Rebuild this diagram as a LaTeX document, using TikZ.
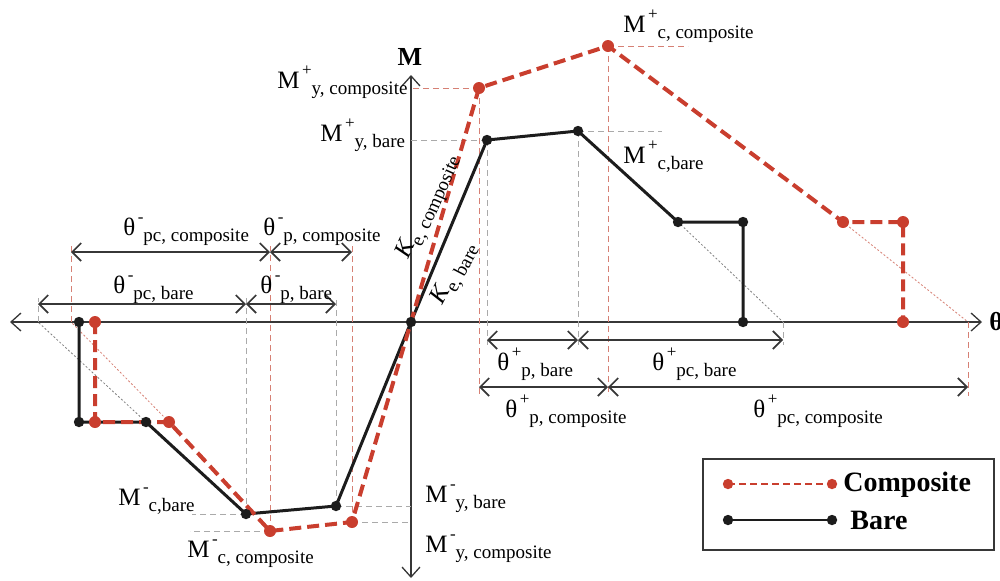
\documentclass[tikz,border=0pt]{standalone}
\usepackage{fontspec}
\setmainfont{Liberation Serif}
\usetikzlibrary{arrows.meta,calc}
\definecolor{compred}{RGB}{201,62,46}
\definecolor{bareblk}{RGB}{28,28,28}
\definecolor{axisgray}{RGB}{55,55,55}
\definecolor{projgray}{RGB}{170,170,170}
\definecolor{projred}{RGB}{214,128,116}
\tikzset{
  axis/.style={draw=axisgray, line width=0.65pt,
    {Straight Barb[length=5pt,width=9pt]}-{Straight Barb[length=5pt,width=9pt]}},
  dim/.style={draw=axisgray, line width=0.85pt,
    {Straight Barb[length=4.5pt,width=9pt]}-{Straight Barb[length=4.5pt,width=9pt]}},
  barecurve/.style={draw=bareblk, line width=1.5pt, line join=round},
  compcurve/.style={draw=compred, line width=2pt, dash pattern=on 6pt off 3pt},
  projb/.style={draw=projgray, line width=0.5pt, dash pattern=on 3pt off 2pt},
  projr/.style={draw=projred, line width=0.5pt, dash pattern=on 3pt off 2pt},
  extb/.style={draw=gray, line width=0.4pt, dash pattern=on 1pt off 1pt},
  extr/.style={draw=projred, line width=0.4pt, dash pattern=on 1pt off 1pt},
  lbl/.style={inner sep=0pt, anchor=base west},
  axlbl/.style={inner sep=0pt, font=\bfseries\fontsize{13}{14}\selectfont},
  legtxt/.style={inner sep=0pt, anchor=west, font=\bfseries\fontsize{14}{15}\selectfont},
}
% symbol with superscript sign and lowered subscript
\newcommand\symlbl[3]{{\fontsize{12.5}{13}\selectfont #1}\hspace{1.2pt}%
  \raisebox{6.2pt}{\fontsize{8.5}{9}\selectfont #2}%
  \raisebox{-3.2pt}{\fontsize{9.5}{10}\selectfont #3}}
\newcommand\stiff[1]{{\fontsize{12.5}{13}\selectfont\itshape K}%
  \raisebox{-3.2pt}{\fontsize{9.5}{10}\selectfont #1}}

\begin{document}
\begin{tikzpicture}[x=0.5pt,y=-0.5pt]
  \useasboundingbox (0,0) rectangle (1000,580);

  % backbone points
  \foreach \n/\x/\y in {o/411/322,
    by/487/140, bc/578/131, br/678/222, bu/743/222, bz/743/322, bx/783/322,
    nby/336/506, nbc/246/514, nbr/146/422, nbu/79/422, nbz/79/322, nbx/38/322,
    cy/479/88, cc/608/46, cr/843/222, cu/903/222, cz/903/322, cx/968/322,
    ncy/352/522, ncc/270/531, ncr/169/422, ncu/95/422, ncz/95/322, ncx/71/322}
    \coordinate (\n) at (\x,\y);
  % rows for dimension arrows and ends of the guide lines
  \coordinate (rowPb) at (0,340);
  \coordinate (rowPc) at (0,387);
  \coordinate (rowNc) at (0,252);
  \coordinate (rowNb) at (0,304);
  \coordinate (endPb) at (0,345);
  \coordinate (endPc) at (0,396);
  \coordinate (endNc) at (0,246);
  \coordinate (endNb) at (0,298);
  \coordinate (tagCc) at (688,0);
  \coordinate (tagBc) at (662,0);
  \coordinate (tagNbc) at (192,0);
  \coordinate (tagNcc) at (190,0);

  % axes
  \coordinate (axL) at (10,322);
  \coordinate (axR) at (982,322);
  \coordinate (axT) at (411,75);
  \coordinate (axB) at (411,578);
  \draw[axis] (axL) -- (axR);
  \draw[axis] (axT) -- (axB);
  \node[axlbl] (Mlab) at (410,57) {M};
  \node[axlbl, anchor=west] (thlab) at (989,322) {θ};

  % guide lines
  \draw[projr] (cy) -- (cy -| o);
  \draw[projb] (by) -- (by -| o);
  \draw[projr] (cc) -- (cc -| tagCc);
  \draw[projb] (bc) -- (bc -| tagBc);
  \draw[projb] (nby) -- (nby -| o);
  \draw[projb] (ncy) -- (ncy -| o);
  \draw[projb] (nbc) -- (nbc -| tagNbc);
  \draw[projb] (ncc) -- (ncc -| tagNcc);
  \foreach \p in {by,bc,bx} \draw[projb] (\p) -- (\p |- endPb);
  \foreach \p in {cy,cc,cx} \draw[projr] (\p) -- (\p |- endPc);
  \foreach \p in {nby,nbc,nbx} \draw[projb] (\p) -- (\p |- endNb);
  \foreach \p in {ncy,ncc,ncx} \draw[projr] (\p) -- (\p |- endNc);
  \draw[extb] (br) -- (bx);
  \draw[extb] (nbr) -- (nbx);
  \draw[extr] (cr) -- (cx);
  \draw[extr] (ncr) -- (ncx);

  % dimension arrows
  \draw[dim] (by |- rowPb) -- (bc |- rowPb);
  \draw[dim] (bc |- rowPb) -- (bx |- rowPb);
  \draw[dim] (cy |- rowPc) -- (cc |- rowPc);
  \draw[dim] (cc |- rowPc) -- (cx |- rowPc);
  \draw[dim] (ncx |- rowNc) -- (ncc |- rowNc);
  \draw[dim] (ncc |- rowNc) -- (ncy |- rowNc);
  \draw[dim] (nbx |- rowNb) -- (nbc |- rowNb);
  \draw[dim] (nbc |- rowNb) -- (nby |- rowNb);

  % backbone curves
  \draw[barecurve] (nbz) -- (nbu) -- (nbr) -- (nbc) -- (nby) -- (o)
    -- (by) -- (bc) -- (br) -- (bu) -- (bz);
  \draw[compcurve] (ncz) -- (ncu) -- (ncr) -- (ncc) -- (ncy) -- (o)
    -- (cy) -- (cc) -- (cr) -- (cu) -- (cz);
  \foreach \p in {nbz,nbu,nbr,nbc,nby,by,bc,br,bu,bz}
    \fill[bareblk] (\p) circle (2.6pt);
  \foreach \p in {ncz,ncu,ncr,ncc,ncy,cy,cc,cr,cu,cz}
    \fill[compred] (\p) circle (3pt);
  \fill[bareblk] (o) circle (2.6pt);

  % moment labels
  \node[lbl] (lMyc) at (277,88) {\symlbl{M}{+}{y, composite}};
  \node[lbl] (lMyb) at (320,141) {\symlbl{M}{+}{y, bare}};
  \node[lbl] (lMcc) at (623,32) {\symlbl{M}{+}{c, composite}};
  \node[lbl] (lMcb) at (623,163) {\symlbl{M}{+}{c,bare}};
  \node[lbl] (lnMcb) at (118,505) {\symlbl{M}{-}{c,bare}};
  \node[lbl] (lnMcc) at (187,557) {\symlbl{M}{-}{c, composite}};
  \node[lbl] (lnMyb) at (425,502) {\symlbl{M}{-}{y, bare}};
  \node[lbl] (lnMyc) at (425,552) {\symlbl{M}{-}{y, composite}};

  % rotation labels
  \node[lbl] (lTnpcc) at (123,235) {\symlbl{θ}{-}{pc, composite}};
  \node[lbl] (lTnpc) at (263,235) {\symlbl{θ}{-}{p, composite}};
  \node[lbl] (lTnpcb) at (113,293) {\symlbl{θ}{-}{pc, bare}};
  \node[lbl] (lTnpb) at (260,293) {\symlbl{θ}{-}{p, bare}};
  \node[lbl] (lTpb) at (497,370) {\symlbl{θ}{+}{p, bare}};
  \node[lbl] (lTpcb) at (652,370) {\symlbl{θ}{+}{pc, bare}};
  \node[lbl] (lTpc) at (505,417) {\symlbl{θ}{+}{p, composite}};
  \node[lbl] (lTpcc) at (753,417) {\symlbl{θ}{+}{pc, composite}};

  % stiffness labels
  \node[rotate=66, inner sep=0pt] (lKc) at (429,207) {\stiff{e, composite}};
  \node[rotate=62, inner sep=0pt] (lKb) at (455,274) {\stiff{e, bare}};

  % legend
  \coordinate (legA) at (703,459);
  \coordinate (legB) at (994,550);
  \coordinate (lc1) at (728,484);
  \coordinate (lc2) at (832,484);
  \coordinate (lb1) at (728,520);
  \coordinate (lb2) at (832,520);
  \draw[draw=axisgray, line width=0.6pt] (legA) rectangle (legB);
  \draw[draw=compred, line width=1.3pt, dash pattern=on 3.5pt off 2pt] (lc1) -- (lc2);
  \draw[draw=bareblk, line width=1.3pt] (lb1) -- (lb2);
  \foreach \p in {lc1,lc2} \fill[compred] (\p) circle (2.6pt);
  \foreach \p in {lb1,lb2} \fill[bareblk] (\p) circle (2.6pt);
  \node[legtxt] (legC) at (843,485) {Composite};
  \node[legtxt] (legBr) at (850,520) {Bare};
\end{tikzpicture}
\end{document}
